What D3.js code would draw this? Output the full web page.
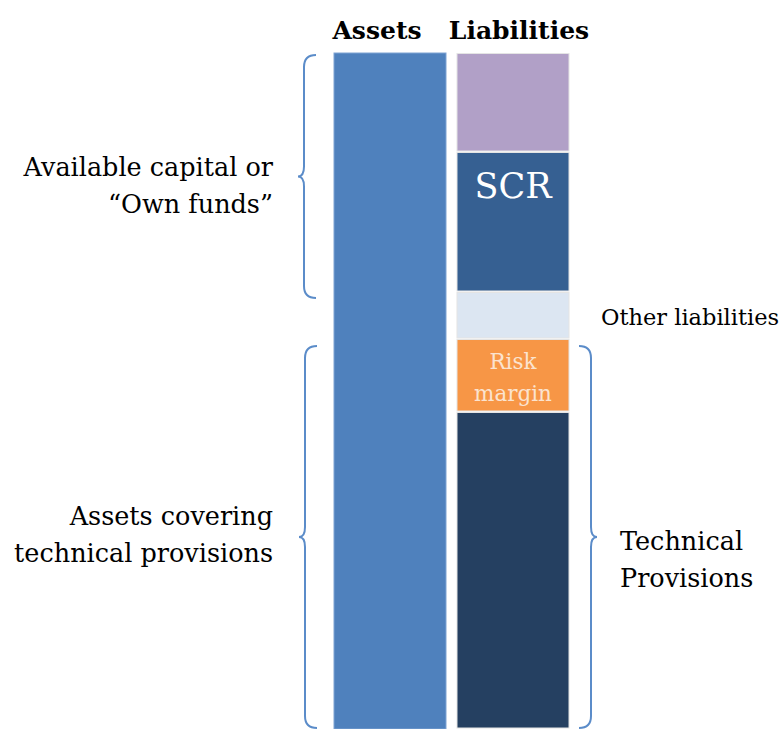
<!DOCTYPE html>
<html>
<head>
<meta charset="utf-8">
<script src="https://cdn.jsdelivr.net/npm/d3@7"></script>
<style>
  body { margin: 0; background: #fff; }
  svg text { font-family: "DejaVu Serif", "Liberation Serif", serif; }
</style>
</head>
<body>
<div id="chart"></div>
<script>
// Balance sheet columns
const columns = ["Assets", "Liabilities"];

// Assets column: one block
const assetItems = ["Assets"];
const assetValues = [676];

// Liabilities column, stacked top to bottom
const liabilityItems = ["Surplus own funds", "SCR", "Other liabilities", "Risk margin", "Best estimate"];
const liabilityValues = [99, 140, 47, 73, 317];
const liabilityColors = ["#b1a0c7", "#366092", "#dce6f2", "#f79646", "#254061"];
const liabilityLabels = ["", "SCR", "", "Risk\nmargin", ""];

// Side annotations
const leftNotes = ["Available capital or\n\u201cOwn funds\u201d", "Assets covering\ntechnical provisions"];
const rightNotes = ["Other liabilities", "Technical\nProvisions"];

const width = 783, height = 729;
const plotTop = 53, plotBottom = 729;

const svg = d3.select("#chart").append("svg")
    .attr("width", width)
    .attr("height", height);

const x = d3.scaleBand()
    .domain(columns)
    .range([334, 569])
    .paddingInner(0.0894);

const total = d3.sum(liabilityValues);
const y = d3.scaleLinear()
    .domain([0, total])
    .range([plotTop, plotBottom]);

// cumulative starts for the stack
let acc = 0;
const stack = liabilityValues.map((v, i) => {
    const d = { name: liabilityItems[i], y0: acc, y1: acc + v, color: liabilityColors[i], label: liabilityLabels[i] };
    acc += v;
    return d;
});

// column titles (not quite centred on the bars in the original)
const titleShift = { Assets: -13, Liabilities: 6 };
svg.selectAll("text.title")
    .data(columns)
    .join("text")
    .attr("class", "title")
    .attr("x", d => x(d) + x.bandwidth() / 2 + titleShift[d])
    .attr("y", 39)
    .attr("text-anchor", "middle")
    .attr("font-weight", "bold")
    .attr("font-size", 25)
    .attr("fill", "#000")
    .text(d => d);

// assets bar
svg.append("rect")
    .attr("x", x("Assets"))
    .attr("y", y(0))
    .attr("width", x.bandwidth())
    .attr("height", y(assetValues[0]) - y(0))
    .attr("fill", "#4f81bd")
    .attr("stroke", "#7fa3d3")
    .attr("stroke-width", 1);

// liabilities stack
svg.selectAll("rect.liab")
    .data(stack)
    .join("rect")
    .attr("class", "liab")
    .attr("x", x("Liabilities"))
    .attr("y", d => y(d.y0) + 0.5)
    .attr("width", x.bandwidth())
    .attr("height", d => y(d.y1) - y(d.y0) - 1.5)
    .attr("fill", d => d.color)
    .attr("stroke", "#e4e4e4")
    .attr("stroke-width", 1);

// labels inside the stack
const inner = svg.selectAll("text.inner")
    .data(stack.filter(d => d.label))
    .join("text")
    .attr("class", "inner")
    .attr("text-anchor", "middle")
    .attr("fill", d => d.name === "SCR" ? "#ffffff" : "#fbe3cf")
    .attr("font-size", d => d.name === "SCR" ? 35 : 21.5);

inner.each(function(d) {
    const lines = d.label.split("\n");
    const cx = x("Liabilities") + x.bandwidth() / 2;
    const el = d3.select(this);
    if (d.name === "SCR") {
        el.append("tspan").attr("x", cx).attr("y", y(d.y0) + 46).text(lines[0]);
    } else {
        lines.forEach((l, i) => {
            el.append("tspan").attr("x", cx).attr("y", y(d.y0) + 30 + i * 32).text(l);
        });
    }
});

// curly brace; dir 1 points left, -1 points right
function bracePath(bx, y0, y1, dir) {
    const d = 12 * dir, t = 6 * dir, r = 12, r2 = 10;
    const ym = (y0 + y1) / 2;
    const xs = bx - d;
    return `M${bx},${y0} Q${xs},${y0} ${xs},${y0 + r} L${xs},${ym - r2} ` +
        `Q${xs},${ym} ${xs - t},${ym} Q${xs},${ym} ${xs},${ym + r2} ` +
        `L${xs},${y1 - r} Q${xs},${y1} ${bx},${y1}`;
}

const ownFundsEnd = stack[1].y1;
const tpStart = stack[3].y0;

const braces = [
    { x: 316, y0: y(0) + 2, y1: y(ownFundsEnd) + 6, dir: 1 },
    { x: 317, y0: y(tpStart) + 7, y1: y(total) - 1, dir: 1 },
    { x: 579, y0: y(tpStart) + 7, y1: y(total) - 1, dir: -1 }
];

svg.selectAll("path.brace")
    .data(braces)
    .join("path")
    .attr("class", "brace")
    .attr("d", d => bracePath(d.x, d.y0, d.y1, d.dir))
    .attr("fill", "none")
    .attr("stroke", "#5b8cc9")
    .attr("stroke-width", 2);

// annotation text
function multiline(sel, text, tx, ty, anchor, size, lh) {
    const t = sel.append("text")
        .attr("text-anchor", anchor)
        .attr("font-size", size)
        .attr("fill", "#000");
    text.split("\n").forEach((l, i) => {
        t.append("tspan").attr("x", tx).attr("y", ty + i * lh).text(l);
    });
}

multiline(svg, leftNotes[0], 273, 176, "end", 25.5, 37);
multiline(svg, leftNotes[1], 273, 525, "end", 25.5, 37);
multiline(svg, rightNotes[0], 601, 325, "start", 22.5, 37);
multiline(svg, rightNotes[1], 620, 550, "start", 25.5, 37);
</script>
</body>
</html>
